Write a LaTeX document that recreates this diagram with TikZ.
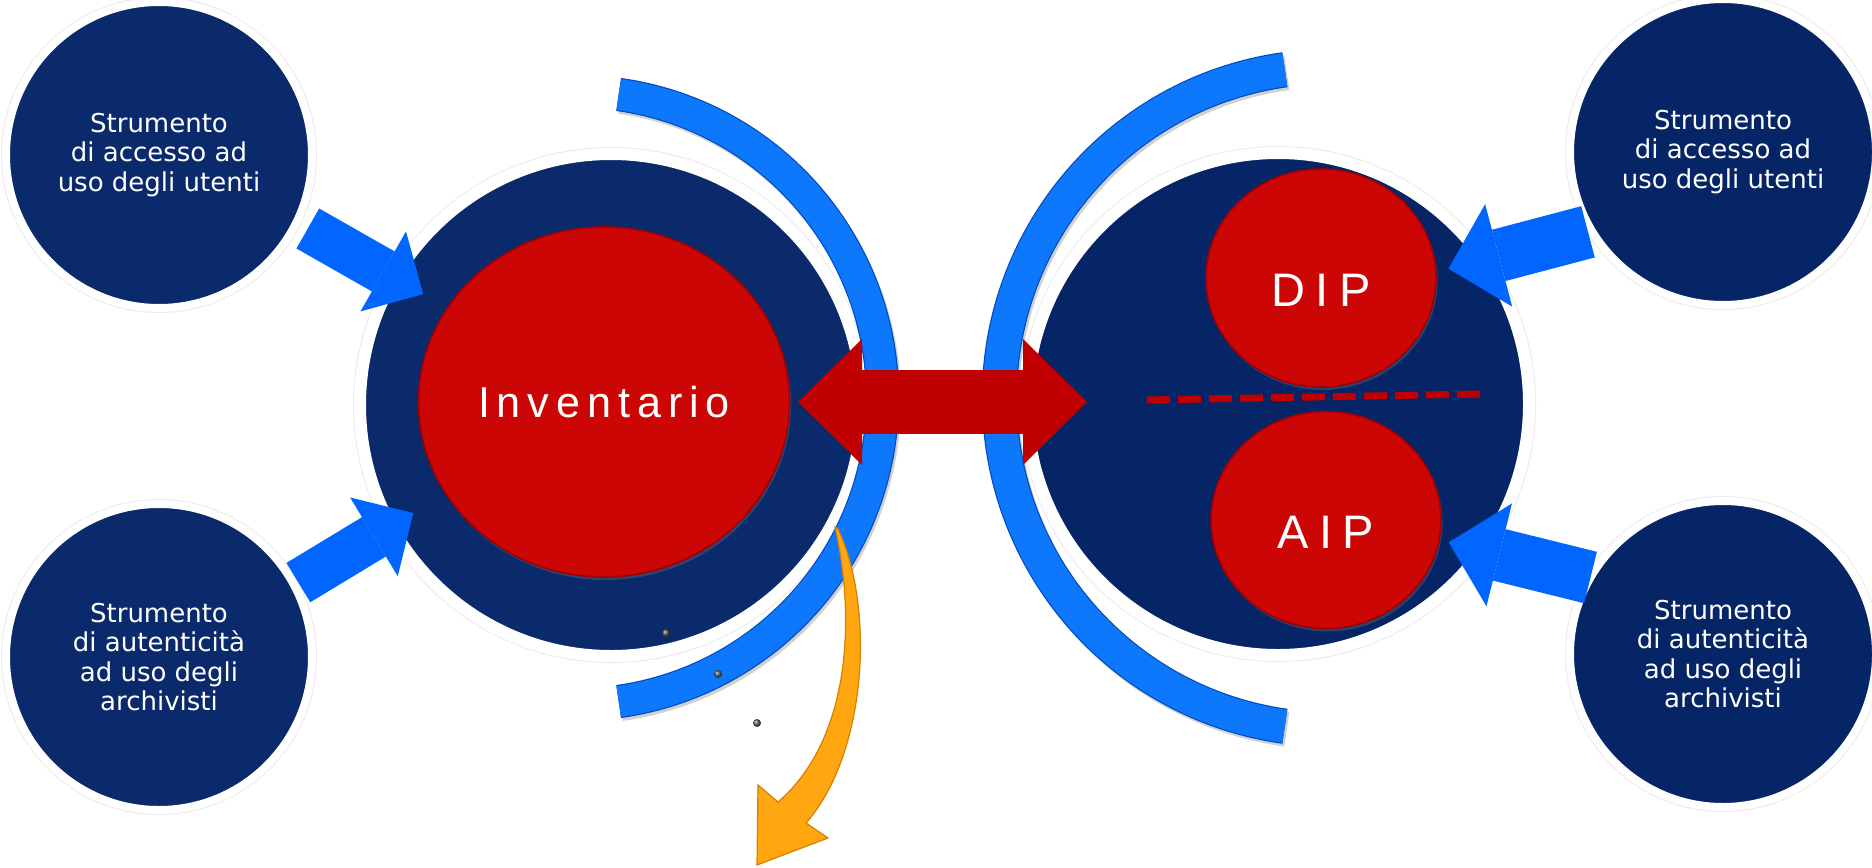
\documentclass[tikz,border=0pt]{standalone}
\usepackage{fontspec}
\setmainfont{DejaVu Sans}
\newfontfamily\ballfont[LetterSpace=16]{Liberation Sans}
\newfontfamily\tagfont[LetterSpace=22]{Liberation Sans}
\usetikzlibrary{positioning}
\usetikzlibrary{arrows.meta}
\usetikzlibrary{shapes.geometric}
\usetikzlibrary{shadows}
\usetikzlibrary{math}

\definecolor{navyL}{RGB}{11,42,107}
\definecolor{navyR}{RGB}{6,37,102}
\definecolor{ballRed}{RGB}{204,6,5}
\definecolor{ballEdge}{RGB}{160,0,0}
\definecolor{swapRed}{RGB}{192,0,0}
\definecolor{pushBlue}{RGB}{0,102,255}
\definecolor{bandBlue}{RGB}{14,120,252}
\definecolor{bandEdge}{RGB}{0,74,196}
\definecolor{outOrange}{RGB}{255,166,16}
\definecolor{outEdge}{RGB}{214,128,0}

\tikzset{
  smalldisc/.style={circle, fill=#1, draw=white, line width=4pt, outer sep=0pt,
    preaction={draw=black!8, line width=5pt}, text=white, align=center,
    font=\fontsize{13}{14.7}\selectfont},
  bigdisc/.style={circle, fill=#1, draw=white, line width=6pt, outer sep=0pt,
    preaction={draw=black!8, line width=7pt}},
  ball/.style={ellipse, fill=ballRed, draw=ballEdge, line width=0.8pt,
    inner sep=0pt, outer sep=0pt, text=white,
    drop shadow={opacity=0.3, shadow xshift=0.8pt, shadow yshift=-1.5pt}},
  band/.style={draw=bandBlue, line width=#1,
    preaction={draw=black!18, line width=#1+1pt, transform canvas={xshift=1pt, yshift=-1.5pt}},
    preaction={draw=bandEdge, line width=#1+1.2pt}},
  pushL/.style={pushBlue, line width=23pt,
    -{Triangle[length=23pt, width=46pt, line width=0pt]}},
  pushR/.style={pushBlue, line width=26.5pt,
    -{Triangle[length=26pt, width=53pt, line width=0pt]}},
  swap/.style={swapRed, line width=32pt,
    {Triangle[length=32pt, width=63pt, line width=0pt]}-{Triangle[length=32pt, width=63pt, line width=0pt]}}
}

\begin{document}
\begin{tikzpicture}[x=0.5pt, y=-0.5pt]
      \tikzmath{
        \rSmall = 153;
        \rBig = 251;
      }
      \useasboundingbox (0,0) rectangle (1872,867);

      % outer tools
      \node[smalldisc=navyL, minimum size=\rSmall pt] (accL) at (159,155)
        {Strumento\\di accesso ad\\uso degli utenti};
      \node[smalldisc=navyL, minimum size=\rSmall pt] (autL) at (159,657)
        {Strumento\\di autenticità\\ad uso degli\\archivisti};
      \node[smalldisc=navyR, minimum size=\rSmall pt] (accR) at (1723,152)
        {Strumento\\di accesso ad\\uso degli utenti};
      \node[smalldisc=navyR, minimum size=\rSmall pt] (autR) at (1723,654)
        {Strumento\\di autenticità\\ad uso degli\\archivisti};

      \node[bigdisc=navyL, minimum size=\rBig pt] (archL) at (611,405) {};
      \node[bigdisc=navyR, minimum size=\rBig pt] (archR) at (1278,404) {};

      \node[ball, minimum width=185.5pt, minimum height=175pt,
        font=\ballfont\fontsize{21.6}{24}\selectfont] (inv) at (604,402) {Inventario};
      \node[ball, minimum width=115pt, minimum height=109pt, text height=28.8pt, text depth=0pt,
        font=\tagfont\fontsize{23.5}{26}\selectfont] (dip) at (1321,278) {DIP};
      \node[ball, minimum width=115pt, minimum height=108.5pt, text height=28.8pt, text depth=0pt,
        font=\tagfont\fontsize{23.5}{26}\selectfont] (aip) at (1326,520) {AIP};

      % blue bands
      \draw[band=15.5pt] (576,398) ++(82:153.25pt) arc[start angle=82, end angle=-82, radius=153.25pt];
      \draw[band=16.5pt] (1331,398) ++(98:165.75pt) arc[start angle=98, end angle=262, radius=165.75pt];

      \draw[pushL, shorten <=6.5pt, shorten >=14pt] (accL.-26) -- (inv.149);
      \draw[pushL, shorten <=2.5pt, shorten >=19pt] (autL.28.7) -- (inv.210.7);
      \draw[pushR, shorten <=2pt, shorten >=6.5pt] (accR.211) -- (dip.3);
      \draw[pushR, shorten >=5pt] (autR.150) -- (aip.-10);

      \draw[swap, shorten <=4.25pt, shorten >=-30pt] (inv.east) -- (inv.east -| archR.west);

      \coordinate (sepL) at (1147,400);
      \coordinate (sepR) at (1480,394);
      \draw[swapRed, line width=3.5pt, dash pattern=on 11.5pt off 4pt] (sepL) -- (sepR);

      \filldraw[fill=outOrange, draw=outEdge, line width=0.6pt]
        (835,527) .. controls (856,620) and (850,740) .. (778,802) -- (758,785) -- (757,865)
        -- (828,838) -- (806,823) .. controls (866,755) and (876,610) .. (838,529) -- cycle;

      \shade[ball color=gray!70!black] (666,633) circle (2pt);
      \shade[ball color=gray!70!black] (718,674) circle (2pt);
      \shade[ball color=gray!70!black] (757,723) circle (2pt);
\end{tikzpicture}
\end{document}
